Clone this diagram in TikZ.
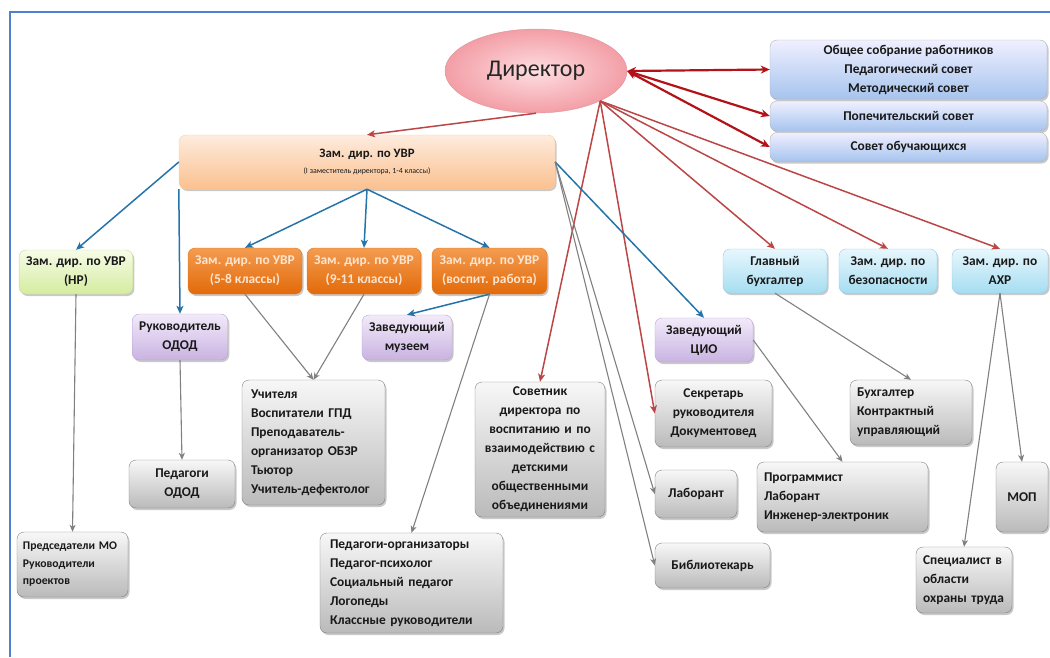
\documentclass[tikz,border=0pt]{standalone}
\usepackage{fontspec}
\setmainfont{Carlito}
\usetikzlibrary{shapes.geometric,arrows.meta,shadows}

\definecolor{frameblue}{RGB}{79,129,210}
\definecolor{darkred}{RGB}{178,18,24}
\definecolor{softred}{RGB}{188,70,70}
\definecolor{lineblue}{RGB}{37,116,169}
\definecolor{linegray}{RGB}{128,128,128}

\begin{document}
\begin{tikzpicture}[x=1pt, y=-1pt,
    box/.style={draw, rounded corners=7pt, align=center, inner xsep=7pt, inner ysep=2pt,
        font=\fontsize{13.4}{19}\selectfont\bfseries, text=black!90,
        drop shadow={shadow xshift=1.5pt, shadow yshift=-2pt, opacity=0.3, fill=black!70}},
    councilbox/.style={box, draw=black!30, top color=blue!6, bottom color={rgb,255:red,166;green,196;blue,238}},
    uvrbox/.style={box, draw=orange!40, top color={rgb,255:red,253;green,236;blue,222}, bottom color={rgb,255:red,251;green,192;blue,143}},
    orangebox/.style={box, draw={rgb,255:red,226;green,119;blue,30}, top color={rgb,255:red,244;green,156;blue,80}, bottom color={rgb,255:red,226;green,106;blue,10}, text={rgb,255:red,253;green,229;blue,208}},
    greenbox/.style={box, draw={rgb,255:red,198;green,217;blue,160}, top color={rgb,255:red,246;green,252;blue,232}, bottom color={rgb,255:red,213;green,236;blue,159}},
    purplebox/.style={box, draw={rgb,255:red,185;green,163;blue,214}, top color={rgb,255:red,242;green,234;blue,249}, bottom color={rgb,255:red,201;green,179;blue,226}},
    cyanbox/.style={box, draw={rgb,255:red,146;green,205;blue,228}, top color={rgb,255:red,231;green,247;blue,253}, bottom color={rgb,255:red,166;green,221;blue,241}},
    graybox/.style={box, draw=black!50, top color=black!3, bottom color=black!27},
    councilarrow/.style={{Stealth[length=9pt,width=8pt]}-{Stealth[length=9pt,width=8pt]}, darkred, line width=2.2pt},
    redline/.style={-{Stealth[length=8pt,width=7pt,inset=2pt]}, softred, line width=1.5pt},
    blueline/.style={-{Stealth[length=8pt,width=7pt,inset=2pt]}, lineblue, line width=1.5pt},
    grayline/.style={-{Stealth[length=7pt,width=6pt,inset=2pt]}, linegray, line width=1.1pt}
]

    % Page and frame
    \useasboundingbox (0,0) rectangle (1050,657);
    \draw[frameblue, line width=2pt] (10,657) -- (10,12) -- (1050,12);

    % Director
    \node[ellipse, draw={rgb,255:red,217;green,150;blue,156}, minimum width=182pt, minimum height=84pt,
        inner color={rgb,255:red,253;green,222;blue,225}, outer color={rgb,255:red,243;green,158;blue,166},
        font=\fontsize{24}{28}\selectfont, text=black!85] (dir) at (536,71) {Директор};
    \coordinate (fan) at (dir.-25);

    % Councils
    \node[councilbox, minimum width=277pt, minimum height=59pt] (obsh) at (908.5,69.5)
        {Общее собрание работников\\Педагогический совет\\Методический совет};
    \node[councilbox, minimum width=277pt, minimum height=30pt] (popech) at (908.5,116) {Попечительский совет};
    \node[councilbox, minimum width=277pt, minimum height=29pt] (sovet) at (908.5,147) {Совет обучающихся};

    % First deputy
    \node[uvrbox, minimum width=376pt, minimum height=54pt, font=\fontsize{12.8}{15}\selectfont\bfseries] (uvr) at (367,162)
        {Зам. дир. по УВР\\[1pt]{\fontsize{7.9}{9}\selectfont\mdseries (I заместитель директора, 1-4 классы)}};

    % Deputies
    \node[greenbox, minimum width=112pt, minimum height=44pt] (nr) at (76,272) {Зам. дир. по УВР\\(НР)};
    \node[orangebox, minimum width=114pt, minimum height=46pt] (k58) at (245,271) {Зам. дир. по УВР\\(5-8 классы)};
    \node[orangebox, minimum width=108pt, minimum height=46pt] (k911) at (364,271) {Зам. дир. по УВР\\(9-11 классы)};
    \node[orangebox, minimum width=115pt, minimum height=46pt] (vosp) at (489.5,271) {Зам. дир. по УВР\\(воспит. работа)};
    \node[cyanbox, minimum width=104pt, minimum height=44pt] (glbuh) at (775,271) {Главный\\бухгалтер};
    \node[cyanbox, minimum width=98pt, minimum height=44pt] (bez) at (888,271) {Зам. дир. по\\безопасности};
    \node[cyanbox, minimum width=96pt, minimum height=44pt] (ahr) at (1000,271) {Зам. дир. по\\АХР};

    % Heads
    \node[purplebox, minimum width=94pt, minimum height=46pt] (odod) at (180,337) {Руководитель\\ОДОД};
    \node[purplebox, minimum width=90pt, minimum height=45pt] (muz) at (407,337.5) {Заведующий\\музеем};
    \node[purplebox, minimum width=98pt, minimum height=44pt] (cio) at (704,340) {Заведующий\\ЦИО};

    % Staff
    \node[graybox, text width=125pt, minimum height=125pt, align=left, inner xsep=9pt] (uchit) at (313.5,442.5)
        {Учителя\\Воспитатели ГПД\\Преподаватель-\\организатор ОБЗР\\Тьютор\\Учитель-дефектолог};
    \node[graybox, minimum width=106pt, minimum height=48pt] (pedodod) at (182,484) {Педагоги\\ОДОД};
    \node[graybox, text width=99pt, minimum height=65pt, align=left, inner xsep=6pt,
        font=\fontsize{11.7}{17.5}\selectfont\bfseries] (pred) at (72.5,564.5)
        {Председатели МО\\Руководители\\проектов};
    \node[graybox, text width=163pt, minimum height=100pt, align=left, inner xsep=10pt] (pedorg) at (411.5,583)
        {Педагоги-организаторы\\Педагог-психолог\\Социальный педагог\\Логопеды\\Классные руководители};
    \node[graybox, text width=116pt, minimum height=135pt] (sovetnik) at (540,449.5)
        {Советник\\директора по\\воспитанию и по\\взаимодействию с\\детскими\\общественными\\объединениями};
    \node[graybox, minimum width=117pt, minimum height=67pt] (sekr) at (713.5,413.5) {Секретарь\\руководителя\\Документовед};
    \node[graybox, minimum width=82pt, minimum height=48pt] (lab) at (696,494) {Лаборант};
    \node[graybox, minimum width=115pt, minimum height=45pt] (bibl) at (712.5,565.5) {Библиотекарь};
    \node[graybox, text width=157pt, minimum height=70pt, align=left] (progr) at (842.5,497)
        {Программист\\Лаборант\\Инженер-электроник};
    \node[graybox, text width=108pt, minimum height=65pt, align=left] (buh) at (911,412.5)
        {Бухгалтер\\Контрактный\\управляющий};
    \node[graybox, text width=82pt, minimum height=66pt, align=left] (spec) at (964,580)
        {Специалист в\\области\\охраны труда};
    \node[graybox, minimum width=52pt, minimum height=70pt] (mop) at (1022,497) {МОП};

    % Director links
    \foreach \c in {obsh, popech, sovet}
        \draw[councilarrow] (dir.east) -- (\c.west);
    \draw[redline] (dir.south) -- (uvr.north);
    \foreach \t/\a in {glbuh/north, bez/north, ahr/north, sovetnik/north, sekr/west}
        \draw[redline] (fan) -- (\t.\a);

    % First deputy links
    \draw[blueline] (uvr.west) -- (nr.north);
    \draw[blueline] (uvr.south west) -- (odod.north);
    \foreach \t in {k58, k911, vosp}
        \draw[blueline] (uvr.south) -- (\t.north);
    \draw[blueline] (uvr.east) -- (cio.north);
    \draw[blueline] (vosp.south) -- (muz.north);

    % Subordinate staff
    \draw[grayline] (uvr.east) -- (lab.west);
    \draw[grayline] (uvr.east) -- (bibl.west);
    \draw[grayline] (k58.south) -- (uchit.north);
    \draw[grayline] (k911.south) -- (uchit.north);
    \draw[grayline] (vosp.south) -- (pedorg.north);
    \draw[grayline] (nr.south) -- (pred.north);
    \draw[grayline] (odod.south) -- (pedodod.north);
    \draw[grayline] (cio.east) -- (progr.north);
    \draw[grayline] (glbuh.south) -- (buh.north);
    \draw[grayline] (ahr.south) -- (spec.north);
    \draw[grayline] (ahr.south) -- (mop.north);

\end{tikzpicture}
\end{document}
